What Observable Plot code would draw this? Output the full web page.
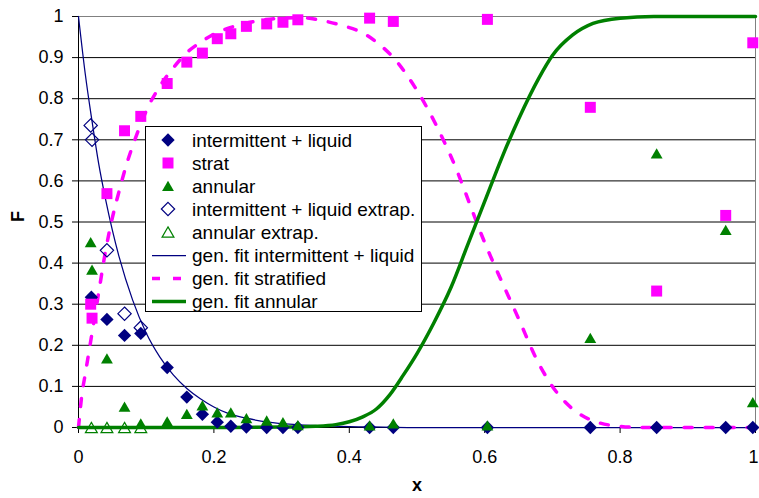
<!DOCTYPE html>
<html>
<head>
<meta charset="utf-8">
<script src="https://cdn.jsdelivr.net/npm/d3@7"></script>
<script src="https://cdn.jsdelivr.net/npm/@observablehq/plot@0.6"></script>
<style>
  html, body { margin: 0; padding: 0; background: #fff; }
  svg { display: block; }
</style>
</head>
<body>
<div id="chart"></div>
<script>
// Measured fractions F of each flow pattern versus x
const intX   = [0.019, 0.042, 0.068, 0.092, 0.131, 0.160, 0.183, 0.205, 0.225, 0.248, 0.278, 0.302, 0.324, 0.430, 0.465, 0.604, 0.756, 0.854, 0.956, 0.996];
const intY   = [0.317, 0.263, 0.224, 0.229, 0.146, 0.074, 0.032, 0.013, 0.003, 0.001, 0, 0, 0, 0, 0, 0, 0, 0, 0, 0];

const stratX = [0.018, 0.020, 0.042, 0.068, 0.092, 0.131, 0.160, 0.183, 0.205, 0.225, 0.248, 0.278, 0.302, 0.324, 0.430, 0.465, 0.604, 0.756, 0.854, 0.956, 0.996];
const stratY = [0.300, 0.266, 0.569, 0.722, 0.757, 0.837, 0.889, 0.911, 0.946, 0.958, 0.976, 0.982, 0.986, 0.992, 0.996, 0.988, 0.993, 0.779, 0.332, 0.516, 0.936];

const annX   = [0.018, 0.020, 0.042, 0.068, 0.092, 0.131, 0.160, 0.183, 0.205, 0.225, 0.248, 0.278, 0.302, 0.324, 0.430, 0.465, 0.604, 0.756, 0.854, 0.956, 0.996];
const annY   = [0.451, 0.384, 0.168, 0.051, 0.010, 0.015, 0.033, 0.054, 0.037, 0.037, 0.023, 0.017, 0.013, 0.006, 0.005, 0.010, 0.005, 0.218, 0.667, 0.481, 0.062];

// Extrapolated values
const intExX = [0.018, 0.020, 0.042, 0.068, 0.092];
const intExY = [0.735, 0.700, 0.431, 0.277, 0.243];
const annExX = [0.019, 0.042, 0.068, 0.092];
const annExY = [0, 0, 0, 0];

// Generalized fit curves
const intFitX = [0, 0.01, 0.02, 0.03, 0.04, 0.05, 0.06, 0.08, 0.10, 0.12, 0.14, 0.16, 0.18, 0.20, 0.22, 0.25, 0.28, 0.32, 0.36, 0.40, 0.45, 0.50, 1.00];
const intFitY = [1, 0.86, 0.745, 0.64, 0.555, 0.48, 0.415, 0.31, 0.23, 0.172, 0.128, 0.095, 0.07, 0.05, 0.035, 0.022, 0.013, 0.007, 0.004, 0.002, 0.001, 0, 0];

const stratFitX = [0, 0.005, 0.01, 0.02, 0.03, 0.04, 0.05, 0.06, 0.07, 0.08, 0.09, 0.10, 0.12, 0.14, 0.16, 0.18, 0.20, 0.23, 0.26, 0.30, 0.33, 0.36, 0.39, 0.42, 0.44, 0.465, 0.50, 0.55, 0.60, 0.65, 0.68, 0.70, 0.72, 0.74, 0.77, 0.80, 0.83, 1.00];
const stratFitY = [0, 0.08, 0.13, 0.23, 0.33, 0.43, 0.51, 0.575, 0.635, 0.685, 0.73, 0.77, 0.83, 0.875, 0.912, 0.937, 0.957, 0.976, 0.988, 0.996, 0.997, 0.99, 0.978, 0.96, 0.938, 0.90, 0.82, 0.66, 0.45, 0.265, 0.155, 0.10, 0.06, 0.033, 0.011, 0.003, 0, 0];

const annFitX = [0, 0.20, 0.30, 0.35, 0.38, 0.40, 0.42, 0.44, 0.46, 0.48, 0.50, 0.525, 0.55, 0.575, 0.60, 0.625, 0.65, 0.68, 0.70, 0.73, 0.76, 0.80, 0.85, 1.00];
const annFitY = [0, 0, 0.001, 0.003, 0.007, 0.014, 0.026, 0.045, 0.08, 0.128, 0.18, 0.255, 0.34, 0.445, 0.55, 0.655, 0.75, 0.85, 0.905, 0.955, 0.983, 0.996, 1, 1];

// Axis ticks
const xTicks = [0, 0.2, 0.4, 0.6, 0.8, 1];
const yTicks = [0, 0.1, 0.2, 0.3, 0.4, 0.5, 0.6, 0.7, 0.8, 0.9, 1];

const legendLabels = [
  "intermittent + liquid",
  "strat",
  "annular",
  "intermittent + liquid extrap.",
  "annular extrap.",
  "gen. fit intermittent + liquid",
  "gen. fit stratified",
  "gen. fit annular"
];

const NAVY = "#000080", MAGENTA = "#FF00FF", GREEN = "#008000";
const FONT = "'Liberation Sans', Arial, sans-serif";

const pts = (xs, ys) => xs.map((x, i) => ({x, y: ys[i]}));
const fmt = d => String(+d.toFixed(1));

const R_DIAMOND = 6, R_SQUARE = 6.2, R_TRI = 4.4;

const svg = Plot.plot({
  width: 759,
  height: 498,
  marginLeft: 78,
  marginRight: 4,
  marginTop: 16,
  marginBottom: 71,
  style: {fontFamily: FONT, fontSize: "18px", color: "#000", background: "#fff"},
  x: {domain: [0, 1]},
  y: {domain: [0, 1]},
  marks: [
    Plot.ruleY(yTicks.filter(d => d > 0 && d < 1), {stroke: "#000", strokeWidth: 1}),
    Plot.ruleY([1], {stroke: "#808080", strokeWidth: 1}),
    Plot.ruleX([1], {stroke: "#808080", strokeWidth: 1}),
    Plot.ruleX([0], {stroke: "#000", strokeWidth: 1}),
    Plot.ruleY([0], {stroke: "#000", strokeWidth: 1}),
    Plot.axisY({ticks: yTicks, tickSize: 6, tickPadding: 9, tickFormat: fmt, label: null, fontSize: 18}),
    // x ticks; the last label sits flush against the right edge
    Plot.axisX({ticks: xTicks, tickSize: 6, tickPadding: 17, tickFormat: d => d === 1 ? "" : fmt(d), label: null, fontSize: 18}),
    Plot.axisX({ticks: [1], tickSize: 0, tickPadding: 23, tickFormat: fmt, label: null, fontSize: 18, textAnchor: "end", dx: 3}),
    Plot.text(["x"], {frameAnchor: "bottom", dy: 63, fontWeight: "bold", fontSize: 18}),
    Plot.text(["F"], {frameAnchor: "left", dx: -60, rotate: -90, fontWeight: "bold", fontSize: 18}),

    // fit curves
    Plot.line(pts(intFitX, intFitY), {x: "x", y: "y", stroke: NAVY, strokeWidth: 1.25, curve: "monotone-x"}),
    Plot.line(pts(stratFitX, stratFitY), {x: "x", y: "y", stroke: MAGENTA, strokeWidth: 3.5, strokeDasharray: "8,13", curve: "monotone-x"}),
    Plot.line(pts(annFitX, annFitY), {x: "x", y: "y", stroke: GREEN, strokeWidth: 3.5, curve: "monotone-x"}),

    // measured points
    Plot.dot(pts(intX, intY), {x: "x", y: "y", symbol: "diamond2", fill: NAVY, r: R_DIAMOND}),
    Plot.dot(pts(stratX, stratY), {x: "x", y: "y", symbol: "square", fill: MAGENTA, r: R_SQUARE}),
    Plot.dot(pts(annX, annY), {x: "x", y: "y", symbol: "triangle", fill: GREEN, r: R_TRI, dy: 1.7}),
    Plot.dot(pts(intExX, intExY), {x: "x", y: "y", symbol: "diamond2", fill: "none", stroke: NAVY, strokeWidth: 1.2, r: R_DIAMOND}),
    Plot.dot(pts(annExX, annExY), {x: "x", y: "y", symbol: "triangle", fill: "none", stroke: GREEN, strokeWidth: 1.2, r: R_TRI, dy: 1.7})
  ]
});

// Legend box
const root = d3.select(svg);
const lg = root.append("g")
  .attr("font-family", FONT)
  .attr("font-size", 19)
  .attr("text-anchor", "start");
lg.append("rect")
  .attr("x", 145.5).attr("y", 126.5).attr("width", 276).attr("height", 185)
  .attr("fill", "#fff").attr("stroke", "#000").attr("stroke-width", 1);

const area = r => Math.PI * r * r;
const items = [
  {type: "dot", symbol: d3.symbolDiamond2, size: area(R_DIAMOND), fill: NAVY, stroke: "none"},
  {type: "dot", symbol: d3.symbolSquare, size: area(R_SQUARE), fill: MAGENTA, stroke: "none"},
  {type: "dot", symbol: d3.symbolTriangle, size: area(R_TRI), fill: GREEN, stroke: "none", dy: 1.7},
  {type: "dot", symbol: d3.symbolDiamond2, size: area(R_DIAMOND), fill: "none", stroke: NAVY},
  {type: "dot", symbol: d3.symbolTriangle, size: area(R_TRI), fill: "none", stroke: GREEN, dy: 1.7},
  {type: "line", stroke: NAVY, width: 1.25},
  {type: "line", stroke: MAGENTA, width: 3.5, dash: "8,13"},
  {type: "line", stroke: GREEN, width: 3.5}
];
items.forEach((it, i) => {
  const cy = 140 + i * 23;
  if (it.type === "dot") {
    lg.append("path")
      .attr("d", d3.symbol(it.symbol, it.size)())
      .attr("transform", `translate(168,${cy + (it.dy || 0)})`)
      .attr("fill", it.fill).attr("stroke", it.stroke).attr("stroke-width", 1.2);
  } else {
    lg.append("line")
      .attr("x1", 152).attr("x2", 186).attr("y1", cy + 0.5).attr("y2", cy + 0.5)
      .attr("stroke", it.stroke).attr("stroke-width", it.width)
      .attr("stroke-dasharray", it.dash || null);
  }
  lg.append("text").attr("x", 192).attr("y", cy).attr("dy", "0.35em").text(legendLabels[i]);
});

document.getElementById("chart").appendChild(svg);
</script>
</body>
</html>
